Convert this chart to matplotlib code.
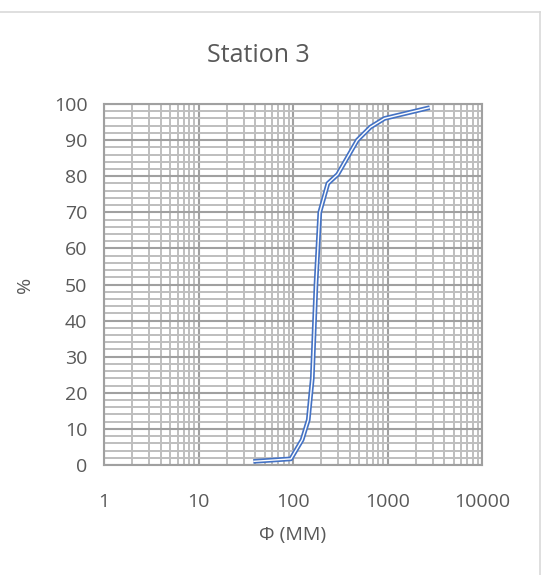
import matplotlib
matplotlib.use("Agg")
import matplotlib.pyplot as plt
from matplotlib.lines import Line2D
from matplotlib.ticker import LogLocator, MultipleLocator, FixedLocator, FixedFormatter, NullFormatter

plt.rcParams['font.family'] = ['Open Sans', 'DejaVu Sans']

# Grain size distribution, Station 3
size_mm = [38, 95, 125, 145, 160, 175, 192, 234, 297, 480, 660, 930, 2800]
passing_pct = [1.0, 1.7, 7.0, 12.5, 24.0, 50.0, 70.0, 78.0, 80.5, 90.0, 93.6, 96.0, 99.0]

x_ticks = [1, 10, 100, 1000, 10000]
x_tick_labels = ["1", "10", "100", "1000", "10000"]
y_ticks = [0, 10, 20, 30, 40, 50, 60, 70, 80, 90, 100]

W, H = 545, 575
fig = plt.figure(figsize=(W / 100, H / 100), dpi=100)

left, right, top, bottom = 104, 482, 104, 465
ax = fig.add_axes([left / W, 1 - bottom / H, (right - left) / W, (bottom - top) / H])

ax.set_xscale('log')
ax.set_xlim(1, 10000)
ax.set_ylim(0, 100)

major_c = '#a0a0a0'
minor_c = '#bebebe'
text_c = '#595959'

ax.xaxis.set_major_locator(FixedLocator(x_ticks))
ax.xaxis.set_major_formatter(FixedFormatter(x_tick_labels))
ax.xaxis.set_minor_locator(LogLocator(base=10, subs=range(2, 10), numticks=20))
ax.xaxis.set_minor_formatter(NullFormatter())
ax.yaxis.set_major_locator(FixedLocator(y_ticks))
ax.yaxis.set_minor_locator(MultipleLocator(2))

ax.grid(which='minor', color=minor_c, lw=1.4)
ax.grid(which='major', color=major_c, lw=1.5)
ax.set_axisbelow(True)
for s in ax.spines.values():
    s.set_color(major_c)
    s.set_linewidth(1.5)

ax.tick_params(which='both', length=0)
ax.tick_params(axis='x', pad=20, labelsize=14, labelcolor=text_c)
ax.tick_params(axis='y', pad=12, labelsize=14, labelcolor=text_c)

# double-stroke line: blue body with a white core
ax.plot(size_mm, passing_pct, color='#4472C4', lw=3.4, solid_joinstyle='round', solid_capstyle='butt', zorder=3)
ax.plot(size_mm, passing_pct, color='white', lw=1.0, solid_joinstyle='round', solid_capstyle='butt', zorder=4)

fig.text(258 / W, 1 - 55 / H, "Station 3", ha='center', va='center', fontsize=18, color=text_c)
fig.text(25 / W, 1 - 285 / H, "%", ha='center', va='center', rotation=90, fontsize=14, color=text_c)
fig.text(293 / W, 1 - 535 / H, "Φ (MM)", ha='center', va='center', fontsize=14, color=text_c)

# chart border
fig.add_artist(Line2D([0, 540 / W], [1 - 12 / H, 1 - 12 / H], transform=fig.transFigure, color='#d9d9d9', lw=1.2))
fig.add_artist(Line2D([540 / W, 540 / W], [0, 1 - 12 / H], transform=fig.transFigure, color='#d9d9d9', lw=1.2))

fig.savefig("out.png", dpi=100)
